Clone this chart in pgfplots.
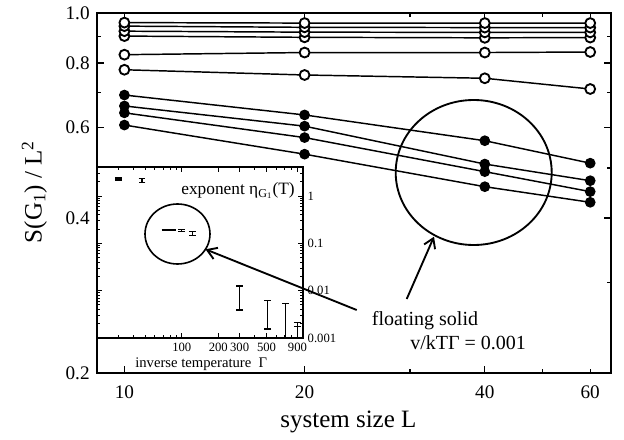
\documentclass[border=0pt]{standalone}
\usepackage{pgfplots}
\pgfplotsset{compat=1.18}
\usepackage{fontspec}
\setmainfont{Liberation Serif}
\usetikzlibrary{arrows.meta}

\begin{document}
\begin{tikzpicture}
% ---------------- main axis ----------------
\begin{axis}[
  at={(0pt,0pt)}, anchor=south west,
  scale only axis, width=385.5pt, height=270pt,
  xmode=log, ymode=log,
  xmin=9, xmax=65, ymin=0.2, ymax=1.0,
  xtick={10,20,40}, xticklabels={\textrm{10},\textrm{20},\textrm{40}},
  extra x ticks={60}, extra x tick labels={\textrm{60}},
  extra x tick style={major tick length=3pt},
  minor xtick={30,50},
  ytick={0.2,0.4,0.6,0.8,1.0},
  yticklabels={\textrm{0.2},\textrm{0.4},\textrm{0.6},\textrm{0.8},\textrm{1.0}},
  minor ytick={0.3,0.5,0.7,0.9},
  tick align=inside,
  major tick length=5pt, minor tick length=3pt,
  tick style={black, line width=1pt},
  axis line style={line width=1.4pt},
  tick label style={font=\fontsize{14.4}{16}\selectfont},
  xticklabel style={yshift=-6pt},
  yticklabel style={xshift=-2pt},
  /pgf/number format/assume math mode=true,
]
% open circles (bottom of the stack first)
\addplot[black, line width=1.1pt, mark=*, mark size=3.7pt, mark options={fill=white, draw=black, line width=1.4pt}]
  coordinates {(10,0.902)(20,0.897)(40,0.895)(60,0.896)};
\addplot[black, line width=1.1pt, mark=*, mark size=3.7pt, mark options={fill=white, draw=black, line width=1.4pt}]
  coordinates {(10,0.922)(20,0.918)(40,0.917)(60,0.917)};
\addplot[black, line width=1.1pt, mark=*, mark size=3.7pt, mark options={fill=white, draw=black, line width=1.4pt}]
  coordinates {(10,0.943)(20,0.938)(40,0.937)(60,0.937)};
\addplot[black, line width=1.1pt, mark=*, mark size=3.7pt, mark options={fill=white, draw=black, line width=1.4pt}]
  coordinates {(10,0.958)(20,0.956)(40,0.956)(60,0.956)};
\addplot[black, line width=1.1pt, mark=*, mark size=3.7pt, mark options={fill=white, draw=black, line width=1.4pt}]
  coordinates {(10,0.830)(20,0.838)(40,0.838)(60,0.840)};
\addplot[black, line width=1.1pt, mark=*, mark size=3.7pt, mark options={fill=white, draw=black, line width=1.4pt}]
  coordinates {(10,0.776)(20,0.758)(40,0.747)(60,0.712)};
% filled circles
\addplot[black, line width=1.1pt, mark=*, mark size=3.6pt, mark options={fill=black, line width=0.8pt}]
  coordinates {(10,0.693)(20,0.634)(40,0.565)(60,0.511)};
\addplot[black, line width=1.1pt, mark=*, mark size=3.6pt, mark options={fill=black, line width=0.8pt}]
  coordinates {(10,0.660)(20,0.603)(40,0.509)(60,0.4725)};
\addplot[black, line width=1.1pt, mark=*, mark size=3.6pt, mark options={fill=black, line width=0.8pt}]
  coordinates {(10,0.640)(20,0.573)(40,0.492)(60,0.450)};
\addplot[black, line width=1.1pt, mark=*, mark size=3.6pt, mark options={fill=black, line width=0.8pt}]
  coordinates {(10,0.606)(20,0.532)(40,0.460)(60,0.429)};
\end{axis}

% ---------------- inset axis ----------------
\begin{axis}[
  at={(0pt,26.25pt)}, anchor=south west,
  scale only axis, width=154.5pt, height=128.25pt,
  xmode=log, ymode=log,
  xmin=20, xmax=1000, ymin=0.001, ymax=4.1,
  axis background/.style={fill=white},
  xtick={100,200,300,500,900},
  xticklabels={\textrm{100},\textrm{200},\textrm{300},\textrm{500},\textrm{900}},
  minor xtick={30,40,50,60,70,80,90,400,600,700,800},
  ytick={0.001,0.01,0.1,1},
  yticklabels={\textrm{0.001},\textrm{0.01},\textrm{0.1},\textrm{1}},
  minor ytick={0.002,0.003,0.004,0.005,0.006,0.007,0.008,0.009,
               0.02,0.03,0.04,0.05,0.06,0.07,0.08,0.09,
               0.2,0.3,0.4,0.5,0.6,0.7,0.8,0.9,2,3,4},
  yticklabel pos=right,
  tick align=inside,
  major tick length=4pt, minor tick length=2.5pt,
  tick style={black, line width=0.7pt},
  axis line style={line width=1pt},
  tick label style={font=\fontsize{9.5}{11}\selectfont},
  /pgf/number format/assume math mode=true,
]
\addplot[draw=none, mark=none,
  error bars/.cd, y dir=both, y explicit, error mark=-,
  error mark options={draw=black, rotate=90, mark size=2.6pt, line width=1pt},
  error bar style={draw=black, line width=1pt}]
  coordinates {
    (30,2.30) +- (0,0.12)
    (47,2.12) += (0,0.21) -= (0,0.19)
    (73,0.192) +- (0,0.004)
    (84,0.192) +- (0,0.004)
    (100,0.188) += (0,0.011) -= (0,0.010)
    (122,0.160) += (0,0.017) -= (0,0.014)
    (300,0.0070) += (0,0.0056) -= (0,0.0031)
    (510,0.0031) += (0,0.0031) -= (0,0.00155)
    (720,0.0023) += (0,0.0031) -= (0,0.0013)
    (900,0.0019) += (0,0.0002) -= (0,0.00017)
    (900,0.0013) += (0,0.00043) -= (0,0.0003)
  };
\end{axis}

% ---------------- annotations (pixel coordinates of the reference) ----------------
\begin{scope}[shift={(-72.75pt,279.75pt)}, x=0.75pt, y=-0.75pt]
  \node[rotate=90, anchor=base west, inner sep=0pt, font=\fontsize{18.75}{20}\selectfont]
    at (41.7,243.3) {S(G\textsubscript{1}) / L\textsuperscript{2}};
  \node[anchor=base east, inner sep=0pt, font=\fontsize{18.75}{20}\selectfont]
    at (416.7,427.7) {system size L};
  \node[anchor=base east, inner sep=0pt, font=\fontsize{13}{15}\selectfont]
    at (295,195) {exponent η\textsubscript{G\textsubscript{1}}(T)};
  \node[anchor=base west, inner sep=0pt, font=\fontsize{11}{13}\selectfont]
    at (135,367) {inverse temperature\enspace Γ};
  \node[anchor=base west, inner sep=0pt, font=\fontsize{15}{17}\selectfont]
    at (371.7,325) {floating solid};
  \node[anchor=base west, inner sep=0pt, font=\fontsize{15}{17}\selectfont]
    at (410,349) {v/kTΓ = 0.001};
  \draw[line width=1.4pt] (473.7,172.5) ellipse [x radius=78, y radius=72.5];
  \draw[line width=1.2pt] (177.5,234) ellipse [x radius=32.5, y radius=30];
  \draw[line width=1.4pt, -{Straight Barb[length=7pt,width=9pt]}] (356.7,310) -- (205.5,249.3);
  \draw[line width=1.4pt, -{Straight Barb[length=7pt,width=9pt]}] (406.7,299) -- (434,236.7);
\end{scope}

\pgfresetboundingbox
\path[use as bounding box] (-72.75pt,-49.5pt) rectangle (395.25pt,279.75pt);
\end{tikzpicture}
\end{document}
